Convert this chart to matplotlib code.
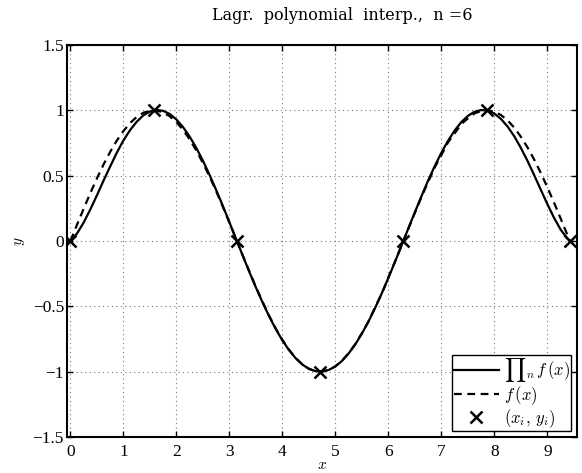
import numpy as np
import matplotlib
matplotlib.use('Agg')
import matplotlib.pyplot as plt

# sample positions (step 0.125)
xs = [0, 0.125, 0.25, 0.375, 0.5, 0.625, 0.75, 0.875, 1.0, 1.125, 1.25,
      1.375, 1.5, 1.625, 1.75, 1.875, 2.0, 2.125, 2.25, 2.375, 2.5, 2.625,
      2.75, 2.875, 3.0, 3.125, 3.25, 3.375, 3.5, 3.625, 3.75, 3.875, 4.0,
      4.125, 4.25, 4.375, 4.5, 4.625, 4.75, 4.875, 5.0, 5.125, 5.25, 5.375,
      5.5, 5.625, 5.75, 5.875, 6.0, 6.125, 6.25, 6.375, 6.5, 6.625, 6.75,
      6.875, 7.0, 7.125, 7.25, 7.375, 7.5, 7.625, 7.75, 7.875, 8.0, 8.125,
      8.25, 8.375, 8.5, 8.625, 8.75, 8.875, 9.0, 9.125, 9.25, 9.375, 9.425]

# interpolating polynomial (solid)
y_interp = [0, 0.058, 0.141, 0.241, 0.349, 0.462, 0.570, 0.675, 0.769,
            0.848, 0.912, 0.961, 0.991, 1.003, 0.996, 0.972, 0.930, 0.872,
            0.799, 0.713, 0.615, 0.507, 0.391, 0.270, 0.144, 0.017, -0.110,
            -0.235, -0.355, -0.469, -0.576, -0.674, -0.760, -0.835, -0.897,
            -0.945, -0.978, -0.996, -0.999, -0.987, -0.960, -0.918, -0.861,
            -0.792, -0.709, -0.616, -0.513, -0.401, -0.283, -0.160, -0.034,
            0.094, 0.220, 0.343, 0.462, 0.573, 0.675, 0.766, 0.845, 0.909,
            0.957, 0.989, 1.002, 0.998, 0.975, 0.934, 0.876, 0.802, 0.713,
            0.614, 0.506, 0.394, 0.283, 0.179, 0.088, 0.020, 0]

# f(x) (dashed)
y_f = [0, 0.125, 0.247, 0.366, 0.479, 0.585, 0.682, 0.768, 0.841, 0.902,
       0.949, 0.981, 0.997, 0.999, 0.984, 0.954, 0.909, 0.851, 0.778, 0.693,
       0.598, 0.494, 0.382, 0.264, 0.141, 0.017, -0.108, -0.231, -0.351,
       -0.464, -0.572, -0.669, -0.757, -0.831, -0.895, -0.943, -0.978,
       -0.996, -0.999, -0.987, -0.959, -0.916, -0.859, -0.790, -0.706,
       -0.616, -0.508, -0.404, -0.279, -0.158, -0.033, 0.092, 0.215, 0.337,
       0.451, 0.563, 0.657, 0.754, 0.823, 0.894, 0.938, 0.976, 0.995, 1.000,
       0.989, 0.964, 0.923, 0.868, 0.798, 0.717, 0.625, 0.522, 0.412, 0.295,
       0.174, 0.050, 0.0]

# nodes
x_nodes = [0, 1.571, 3.142, 4.712, 6.283, 7.854, 9.425]
y_nodes = [0, 1, 0, -1, 0, 1, 0]

xtick_vals = [0, 1, 2, 3, 4, 5, 6, 7, 8, 9]
ytick_vals = [-1.5, -1, -0.5, 0, 0.5, 1, 1.5]
ytick_labels = ['\u22121.5', '\u22121', '\u22120.5', '0', '0.5', '1', '1.5']

plt.rcParams['font.family'] = ['Liberation Serif', 'DejaVu Serif']
plt.rcParams['mathtext.fontset'] = 'cm'

fig = plt.figure(figsize=(5.82, 4.73), dpi=100)
ax = fig.add_axes([0.1146, 0.0761, 0.8768, 0.8288])

ax.plot(xs, y_interp, 'k-', lw=1.6, solid_joinstyle='round',
        label=r'$\prod{}_n\, f\,(x)$')
ax.plot(xs, y_f, 'k--', lw=1.6, dashes=(3.5, 2.5), label=r'$f\,(x)$')
ax.plot(x_nodes, y_nodes, 'kx', ms=9, mew=1.8, label=r'$(x_i,\, y_i)$')

ax.set_xlim(-0.07, 9.56)
ax.set_ylim(-1.5, 1.5)
ax.set_xticks(xtick_vals)
ax.set_xticklabels([str(v) for v in xtick_vals])
ax.set_yticks(ytick_vals)
ax.set_yticklabels(ytick_labels)
ax.tick_params(direction='in', top=True, right=True, labelsize=12.5,
               length=4, width=1, pad=2)
ax.tick_params(axis='x', pad=5)
for s in ax.spines.values():
    s.set_linewidth(1.5)
ax.grid(True, linestyle=(0, (1, 3)), color='#777777', lw=0.8)

ax.set_xlabel('$x$', fontsize=11, labelpad=-1)
ax.set_ylabel('$y$', fontsize=11, labelpad=4)
ax.set_title('Lagr.  polynomial  interp.,  n =6', fontsize=11.5,
             family='DejaVu Serif', pad=18, x=0.54)

leg = ax.legend(loc='lower right', fontsize=12, fancybox=False,
                edgecolor='black', framealpha=1, borderpad=0.1,
                labelspacing=0.0, handlelength=2.7, handletextpad=0.3,
                borderaxespad=0.35)
leg.get_frame().set_linewidth(1.0)

fig.savefig('out.png', dpi=100)
